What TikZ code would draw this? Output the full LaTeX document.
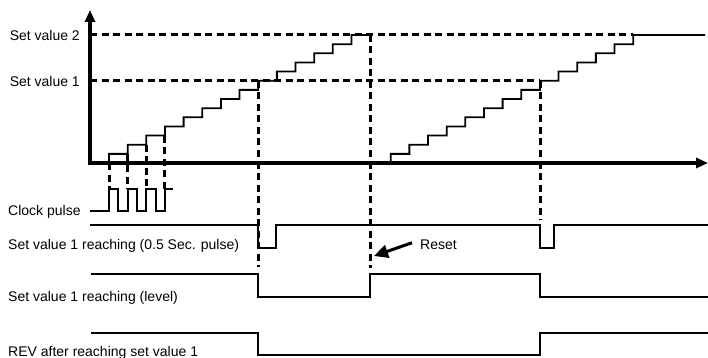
\documentclass[tikz,border=0pt]{standalone}
\usepackage{fontspec}
\setmainfont{Liberation Sans}
\usetikzlibrary{arrows.meta}
\tikzset{
  axis/.style={line width=3.4pt},
  guide/.style={line width=3pt,dash pattern=on 7pt off 4.5pt},
  signal/.style={line width=2pt},
  stair/.style={line width=1.8pt},
  lbl/.style={inner sep=0pt,font=\fontsize{14}{16}\selectfont}
}
\begin{document}
\begin{tikzpicture}[x=1pt,y=-1pt]
        \useasboundingbox (0,0) rectangle (708,358);
        \draw[guide] (90,35) -- (633.3,35);
        \draw[guide] (90,81) -- (540,81);
        \foreach \x/\e in {109/370,390.7/705}{
          \draw[stair] (\x,163) \foreach \k in {1,...,13}{ -- ++(0,-9.14) -- ++(18.65,0)} -- ++(0,-9.14) -- (\e,35);
        }
        \foreach \k in {0,...,3}{
          \draw[guide] ({109+18.65*\k},{163-9.14*\k}) -- ({109+18.65*\k},189);
        }
        \draw[guide] (258,81) -- (258,267);
        \draw[guide] (370,35) -- (370,268);
        \draw[guide] (540,81) -- (540,220);
        \draw[axis,-{Triangle[length=12pt,width=10pt]}] (90,164.7) -- (90,10);
        \draw[axis,-{Triangle[length=12pt,width=10pt]}] (88.3,163) -- (708,163);
        \node[lbl,anchor=base east] (sv2) at (80,41) {Set value 2};
        \node[lbl,anchor=base east] (sv1) at (80,87) {Set value 1};
        \node[lbl,anchor=base west] (clk) at (8,215) {Clock pulse};
        \node[lbl,anchor=base west] (pls) at (8,249) {Set value 1 reaching (0.5 Sec. pulse)};
        \node[lbl,anchor=base west] (lvl) at (8,301) {Set value 1 reaching (level)};
        \node[lbl,anchor=base west] (rev) at (8,356.5) {REV after reaching set value 1};
        \draw[signal] (90,210.7) \foreach \k in {0,1,2}{ -| ({109+18.65*\k},189) -| ({118.3+18.65*\k},210.7)} -| (165,189) -- (172.7,189);
        \draw[signal] (90,225) -| (258,248) -| (276,225) -| (540,248) -| (554,225) -- (708,225);
        \draw[signal] (91,274) -| (258,297) -| (370,274) -| (540,297) -- (708,297);
        \draw[signal] (91,333) -| (258,354.5) -| (540,333) -- (708,333);
        \node[lbl,anchor=base west] (reset) at (420,249) {Reset};
        \coordinate (rst) at (374,256);
        \draw[line width=3pt,-{Triangle[length=14pt,width=13pt]}] ([xshift=-8pt,yshift=1.5pt]reset.west) -- (rst);
      \end{tikzpicture}
\end{document}
